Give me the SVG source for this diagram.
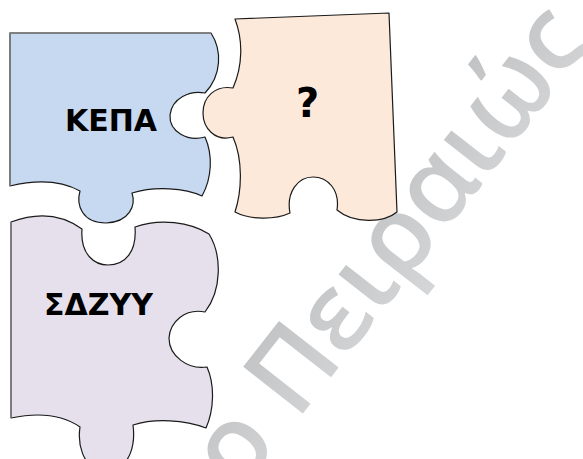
<svg xmlns="http://www.w3.org/2000/svg" width="583" height="459" viewBox="0 0 583 459">
<defs>
<linearGradient id="wmg" x1="0" y1="0" x2="0" y2="1">
<stop offset="0" stop-color="#bdbec0"/>
<stop offset="1" stop-color="#d6d7d9"/>
</linearGradient>
</defs>
<style>
.piece{stroke:#1a1a1a;stroke-width:1.2;stroke-linejoin:round}
.edge{stroke:#808080;stroke-width:1.5;fill:none}
.lbl{font-family:"DejaVu Sans",Verdana,sans-serif;font-weight:bold;fill:#000;text-anchor:middle}
.wm{font-family:"Open Sans","Noto Sans",sans-serif;font-size:106px;font-weight:600;fill:url(#wmg)}
</style>
<rect width="583" height="459" fill="#ffffff"/>
<g id="watermark">
<text class="wm" x="240" y="494" transform="rotate(-52 240 494)">ο Πειραιώς</text>
</g>
<g id="connectors"/>
<g id="piece-kepa">
<path class="piece" fill="#c6d9f1" d="M10 33 L211 33 C222 50 222 75 205 93 C190 90 172 98 170 115 C169 132 188 142 205 137 C213 155 212 178 202 196 C185 188 155 186 132 193 C136 205 130 222 106 223 C82 223 76 205 80 191 C60 180 35 180 10 186 Z"/>
<path class="edge" d="M10 186 L10 33 L211 33"/>
<text class="lbl" x="111" y="131" font-size="30">ΚΕΠΑ</text>
</g>
<g id="piece-sdzyy">
<path class="piece" fill="#e5e0ec" d="M11 222 C35 213 60 213 82 229 C80 255 95 265 108 265 C125 265 137 252 135 227 C160 218 190 222 209 234 C222 255 222 290 205 312 C185 308 170 322 169 338 C169 356 188 370 207 367 C215 385 214 410 206 428 C185 420 155 418 133 425 C135 440 133 470 106 470 C80 470 78 440 80 427 C60 413 35 413 11 418 Z"/>
<path class="edge" d="M11 222 L11 418"/>
<text class="lbl" x="98.5" y="315" font-size="30">ΣΔΖΥΥ</text>
</g>
<g id="piece-question">
<path class="piece" fill="#fde9d9" d="M235 19 L389 13 L397 212 C385 222 355 225 337 210 C340 190 328 177 313 177 C298 177 286 192 290 213 C275 220 250 220 235 212 C242 190 243 160 233 137 C215 142 203 128 203 113 C203 97 215 85 233 88 C243 65 243 40 235 19 Z"/>
<text class="lbl" x="307.5" y="117" font-size="40">?</text>
</g>
</svg>
